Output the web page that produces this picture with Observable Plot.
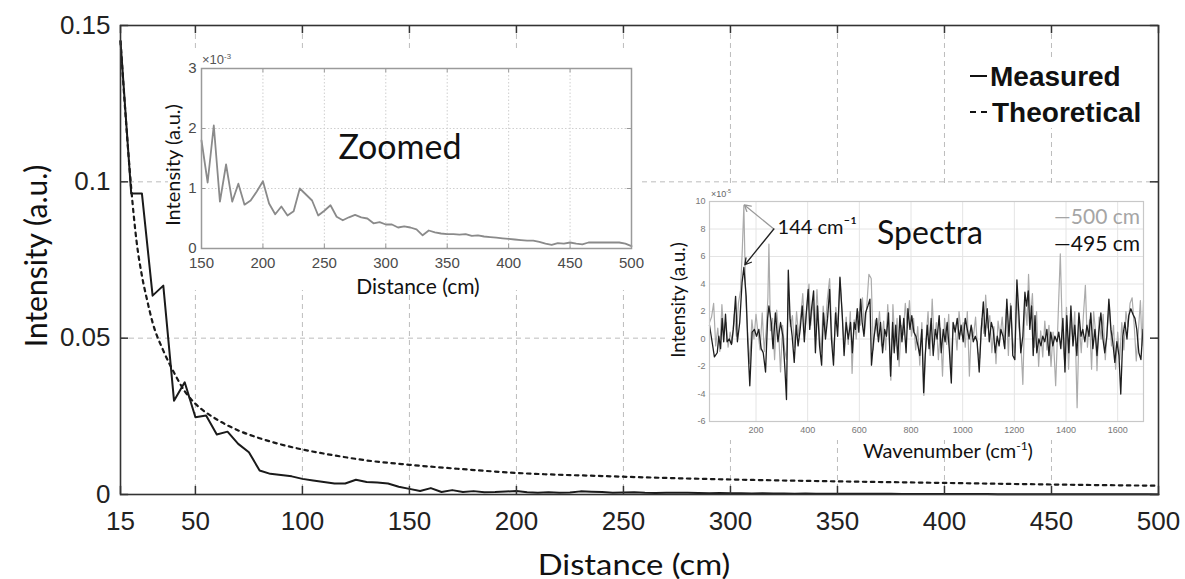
<!DOCTYPE html>
<html><head><meta charset="utf-8">
<script src="https://cdn.jsdelivr.net/npm/d3@7"></script>
<script src="https://cdn.jsdelivr.net/npm/@observablehq/plot@0.6"></script>
<style>
body{margin:0;background:#fff;}
#wrap{position:relative;width:1185px;height:579px;overflow:hidden;background:#fff;}
#wrap > *{position:absolute;}
.t{font-family:Lato,"Open Sans",sans-serif;color:#111;white-space:nowrap;line-height:1;}
.c{transform:translate(-50%,-50%);}
.r{transform:translate(-50%,-50%) rotate(-90deg);}
.bg{background:#fff;}
.leg{font-family:"Liberation Sans",Arial,sans-serif;font-weight:bold;font-size:27px;color:#111;white-space:nowrap;line-height:1;transform:translateY(-50%);}
sup{font-size:60%;vertical-align:0.7em;line-height:0;}
</style></head><body><div id="wrap"></div>
<script>
// ---------- data ----------
const mainXTicks = [15,50,100,150,200,250,300,350,400,450,500];
const mainYTicks = [0,0.05,0.1,0.15];
const measuredDist = [15,20,25,30,35,40,45,50,55,60,65,70,75,80,85,90,95,100,105,110,115,120,125,130,135,140,145,150,155,160,165,170,175,180,185,190,195,200,205,210,215,220,225,230,235,240,245,250,255,260,265,270,275,280,285,290,295,300,305,310,315,320,325,330,335,340,345,350,355,360,365,370,375,380,385,390,395,400,405,410,415,420,425,430,435,440,445,450,455,460,465,470,475,480,485,490,495,500];
const measuredVal = [0.145,0.0963,0.0963,0.0636,0.0668,0.0300,0.0359,0.0247,0.0253,0.0192,0.0201,0.0162,0.0135,0.0077,0.0066,0.0062,0.0058,0.0050,0.0045,0.0040,0.0035,0.0035,0.0047,0.0040,0.0038,0.0035,0.0025,0.0018,0.0011,0.00205,0.00078,0.0014,0.00078,0.00108,0.00073,0.0008,0.00095,0.00112,0.00075,0.00057,0.0007,0.00055,0.00062,0.0010,0.0009,0.0008,0.00055,0.00063,0.00072,0.00053,0.00047,0.00052,0.00056,0.00052,0.0005,0.00042,0.00044,0.0004,0.0004,0.00035,0.00037,0.00035,0.00032,0.00022,0.0003,0.00027,0.00025,0.00024,0.00024,0.00023,0.00024,0.00021,0.00022,0.0002,0.00019,0.00018,0.00017,0.00016,0.00015,0.00014,0.00013,0.00013,0.00011,0.00008,0.00006,0.00009,0.00008,0.0001,0.00008,0.00007,0.0001,0.0001,0.0001,0.0001,0.0001,0.0001,0.00008,0.00004];
const theoryDist = [15,17.5,20,22.5,25,27.5,30,35,40,45,50,55,60,70,80,90,100,115,130,150,175,200,240,300,350,400,450,500];
const theoryVal  = [0.145,0.120,0.098,0.081,0.070,0.062,0.055,0.046,0.039,0.033,0.029,0.0262,0.0240,0.0205,0.0180,0.0160,0.0144,0.0125,0.0109,0.0095,0.0081,0.0069,0.0059,0.0048,0.0042,0.0037,0.0032,0.0028];

const zoomXTicks = [150,200,250,300,350,400,450,500];
const zoomYTicks = [0,1,2,3];

const specXTicks = [200,400,600,800,1000,1200,1400,1600];
const specYTicks = [-6,-4,-2,0,2,4,6,8,10];
// 495 cm spectrum [wavenumber, intensity x1e-5]
const spec495 = [[20,1.0],[30,-0.2],[39,-1.3],[50,-1.0],[56,0.2],[63,-0.7],[69,1.5],[75,-0.2],[82,1.8],[88,-0.2],[97,0],[105,-0.4],[112,0.7],[121,3.1],[128,-0.2],[137,1.2],[146,4.1],[153,5.2],[162,3.1],[168,-0.2],[176,-3.4],[185,0.5],[194,0.7],[202,0.2],[211,0.7],[220,-0.7],[228,-1.0],[237,-2.4],[245,1.5],[250,2.4],[259,1.2],[266,-0.7],[275,1.9],[285,-0.2],[295,1.2],[304,0.2],[312,-2.2],[318,-4.4],[325,5.0],[332,1.5],[340,0.2],[348,-1.7],[356,1.0],[363,-0.5],[371,0.7],[379,2.4],[387,-0.2],[394,1.7],[402,3.6],[408,0.7],[415,2.2],[423,3.5],[430,-1.0],[438,2.4],[446,-0.5],[454,-1.9],[461,1.9],[469,0],[477,1.5],[485,3.6],[492,0],[500,-1.9],[508,1.9],[516,0.2],[525,4.5],[534,1.7],[541,-1.2],[549,1.2],[557,0],[566,1.2],[573,-1.0],[580,1.2],[585,0.7],[592,2.2],[598,0.5],[605,2.9],[611,1.2],[618,0.2],[624,1.9],[633,2.4],[641,2.9],[647,-1.9],[656,0],[667,1.5],[674,-0.2],[682,1.2],[690,-1.0],[698,0.7],[705,0.2],[713,1.9],[721,-2.7],[729,1.2],[735,-1.0],[741,1.0],[749,-1.5],[757,1.7],[765,-0.2],[772,1.5],[781,-1.0],[788,2.2],[796,0.7],[803,1.7],[811,0.5],[819,0.2],[827,-0.5],[834,-1.2],[842,0.7],[849,-3.9],[855,-1.2],[863,1.0],[870,-0.7],[878,1.5],[886,-1.2],[894,0.7],[901,0],[909,1.7],[917,-1.0],[925,0.7],[932,-0.2],[940,1.2],[948,-0.7],[956,-3.2],[963,1.2],[971,0.5],[979,1.5],[987,0],[994,1.0],[1002,-0.2],[1010,1.5],[1018,0.7],[1025,0],[1033,1.0],[1041,-0.2],[1049,0.2],[1056,-0.2],[1064,-2.4],[1072,0.7],[1080,2.7],[1087,0.2],[1095,2.2],[1103,-0.2],[1111,1.2],[1118,0.7],[1126,-1.0],[1134,0.2],[1141,-0.5],[1148,0.7],[1156,0.2],[1163,-0.7],[1171,2.9],[1179,0.2],[1187,2.4],[1194,-1.2],[1202,-1.5],[1210,4.3],[1218,1.7],[1225,-1.0],[1233,0.2],[1241,3.4],[1247,2.4],[1254,3.5],[1260,0.7],[1267,2.4],[1273,-1.2],[1280,1.7],[1287,-1.0],[1295,0],[1303,-0.5],[1310,0.2],[1318,-0.2],[1326,0.7],[1334,-1.2],[1341,0.5],[1349,-0.5],[1357,0.2],[1365,-0.2],[1372,0.5],[1380,-0.7],[1388,1.5],[1396,-2.4],[1403,1.7],[1411,-1.0],[1419,2.4],[1427,-0.5],[1434,1.0],[1442,-1.2],[1450,1.9],[1458,0.2],[1465,0.7],[1473,-0.2],[1481,1.0],[1489,0.2],[1496,1.9],[1504,-0.7],[1512,0.7],[1520,-1.2],[1527,0.5],[1535,1.9],[1543,0],[1550,-1.0],[1558,0.2],[1566,2.9],[1574,0.7],[1581,-0.2],[1589,-1.7],[1597,-0.2],[1605,-1.2],[1612,-4.0],[1620,0.2],[1628,1.2],[1636,0],[1643,1.7],[1651,2.2],[1659,1.8],[1667,1.5],[1674,0.7],[1682,-1.0],[1690,-1.5],[1698,0.7]];
// 500 cm spectrum [wavenumber, intensity x1e-5]
const spec500 = [[20,1.2],[28,1.6],[36,2.6],[44,-0.5],[52,0.8],[60,-0.9],[68,2.5],[76,0.3],[84,1.2],[92,-0.6],[100,0.5],[108,-0.3],[116,1.8],[124,0.2],[132,2.6],[140,3.5],[147,6.5],[153,9.7],[160,3.0],[168,0.4],[176,-1.8],[184,1.4],[192,0.0],[200,1.8],[208,0.4],[216,-0.8],[224,1.9],[232,-0.9],[240,0.8],[246,3.0],[250,6.9],[256,0.6],[264,1.5],[272,-1.5],[280,2.1],[288,0.3],[295,-2.4],[303,1.0],[311,-0.8],[318,-1.5],[325,3.0],[333,0.9],[341,1.7],[349,-0.6],[357,2.0],[365,0.2],[373,1.6],[381,3.3],[389,0.5],[397,2.3],[405,4.0],[412,1.0],[420,2.8],[428,0.2],[436,3.6],[444,0.8],[452,-1.0],[460,2.4],[468,0.6],[476,2.9],[485,4.4],[493,0.5],[501,-1.2],[509,2.3],[517,0.9],[525,4.4],[533,2.0],[541,-0.6],[549,1.6],[557,-0.4],[565,2.0],[572,-2.5],[580,1.4],[588,0.0],[596,2.0],[604,1.0],[612,3.0],[620,0.4],[628,2.2],[637,4.7],[646,4.4],[654,-0.8],[662,1.4],[670,0.2],[678,2.0],[686,-0.5],[694,1.3],[702,-0.8],[710,2.5],[716,0.0],[722,-3.0],[730,2.5],[738,-0.5],[746,1.5],[754,-2.0],[762,1.0],[770,0.3],[778,2.6],[786,0.8],[794,2.8],[802,0.2],[810,1.5],[818,-0.8],[826,0.9],[834,-1.9],[842,1.2],[850,-4.1],[858,0.0],[866,2.0],[874,-1.2],[882,2.9],[890,-0.4],[898,1.2],[906,-1.5],[914,0.8],[922,-2.7],[930,1.5],[938,-0.4],[946,1.8],[954,-2.4],[962,0.7],[970,1.0],[978,-0.8],[986,2.0],[994,0.3],[1002,1.2],[1010,-0.6],[1018,2.0],[1026,-2.7],[1034,0.9],[1042,0.2],[1050,1.6],[1058,-0.9],[1066,-1.4],[1074,1.5],[1082,0.4],[1089,3.2],[1097,0.8],[1105,1.7],[1113,-1.0],[1121,0.9],[1129,-1.8],[1137,1.3],[1145,0.2],[1153,1.6],[1161,-0.5],[1169,2.2],[1177,-1.2],[1185,2.6],[1193,0.0],[1201,-1.0],[1209,3.6],[1217,0.9],[1225,-0.2],[1233,-3.3],[1241,2.7],[1249,1.0],[1255,4.7],[1262,1.5],[1270,3.3],[1278,-0.6],[1286,2.0],[1294,-2.0],[1302,0.6],[1310,-1.3],[1318,1.3],[1326,-0.8],[1334,1.0],[1342,-2.0],[1350,0.5],[1360,-3.4],[1368,0.8],[1378,6.2],[1386,0.3],[1394,-1.5],[1402,2.3],[1410,-2.2],[1418,1.4],[1426,0.0],[1434,2.0],[1443,-5.0],[1451,1.2],[1459,-1.0],[1467,1.6],[1475,3.9],[1483,-0.6],[1491,1.4],[1499,-2.2],[1507,2.0],[1515,0.4],[1520,-2.3],[1528,1.6],[1536,0.0],[1544,1.8],[1552,-1.5],[1560,0.7],[1568,2.5],[1576,-0.5],[1584,1.0],[1592,-2.2],[1600,0.5],[1608,-1.5],[1616,1.2],[1624,-0.8],[1632,2.0],[1640,0.9],[1648,2.6],[1656,3.0],[1664,1.0],[1672,-1.6],[1680,0.5],[1688,2.8],[1694,-0.5],[1700,2.8]];
const peakLabel = [{x:272, y:8.1, text:"144 cm⁻¹"}];
const arrow500 = [{x1:269, y1:8.0, x2:155, y2:9.75}];
const arrow495 = [{x1:269, y1:8.0, x2:157, y2:5.4}];

// ---------- build ----------
const measured = measuredDist.map((d,i)=>({d, v:measuredVal[i]}));
const theory = theoryDist.map((d,i)=>({d, v:theoryVal[i]}));
const s495 = spec495.map(([w,v])=>({w,v}));
const s500 = spec500.map(([w,v])=>({w,v}));
const sans = "'Liberation Sans', Arial, sans-serif";
const wrap = document.getElementById("wrap");

const mainPlot = Plot.plot({
  width:1185, height:579, marginLeft:120, marginRight:27, marginTop:25, marginBottom:85,
  style:{background:"transparent", fontFamily:sans, color:"#222", overflow:"visible"},
  x:{type:"linear", domain:[15,500]},
  y:{type:"linear", domain:[0,0.15]},
  marks:[
    Plot.gridX(mainXTicks.slice(1,-1), {stroke:"#bdbdbd", strokeOpacity:1, strokeDasharray:"5,4"}),
    Plot.gridY(mainYTicks.slice(1,-1), {stroke:"#bdbdbd", strokeOpacity:1, strokeDasharray:"5,4"}),
    Plot.line(theory, {x:"d", y:"v", stroke:"#1a1a1a", strokeWidth:2.2, strokeDasharray:"3.5,4.5", curve:"monotone-x"}),
    Plot.line(measured, {x:"d", y:"v", stroke:"#1a1a1a", strokeWidth:2}),
    Plot.ruleX(mainXTicks, {x:d=>d, y1:0, y2:0.0026, stroke:"#333", strokeWidth:1.5}),
    Plot.ruleX(mainXTicks, {x:d=>d, y1:0.15, y2:0.1474, stroke:"#333", strokeWidth:1.5}),
    Plot.ruleY(mainYTicks, {y:d=>d, x1:15, x2:18.8, stroke:"#333", strokeWidth:1.5}),
    Plot.ruleY(mainYTicks, {y:d=>d, x1:500, x2:496.2, stroke:"#333", strokeWidth:1.5}),
    Plot.frame({stroke:"#333", strokeWidth:1.6}),
    Plot.axisX(mainXTicks, {tickSize:0, tickPadding:17, fontSize:26, label:null, tickFormat:d=>String(d)}),
    Plot.axisY(mainYTicks, {tickSize:0, tickPadding:10, fontSize:26, label:null, tickFormat:d=>String(d)})
  ]
});
mainPlot.style.left="0px"; mainPlot.style.top="0px";
wrap.appendChild(mainPlot);

function addDiv(cls, css, html){
  const e=document.createElement("div"); e.className=cls; e.style.cssText=css; e.innerHTML=html||""; wrap.appendChild(e); return e;
}
// white backgrounds of insets and legend
addDiv("bg","left:168px;top:48px;width:472px;height:242px;");
addDiv("bg","left:668px;top:187px;width:482px;height:253px;");
addDiv("bg","left:962px;top:58px;width:190px;height:70px;");

const zoomPlot = Plot.plot({
  width:490, height:250, marginLeft:51, marginRight:9, marginTop:18, marginBottom:52,
  style:{background:"transparent", fontFamily:sans, color:"#4a4a4a", overflow:"visible"},
  x:{type:"linear", domain:[150,500]},
  y:{type:"linear", domain:[0,3]},
  marks:[
    Plot.gridX(zoomXTicks.slice(1,-1), {stroke:"#cfcfcf", strokeOpacity:1, strokeDasharray:"1.5,2"}),
    Plot.gridY(zoomYTicks.slice(1,-1), {stroke:"#cfcfcf", strokeOpacity:1, strokeDasharray:"1.5,2"}),
    Plot.line(measured.filter(p=>p.d>=150), {x:"d", y:p=>p.v*1000, stroke:"#8a8a8a", strokeWidth:1.8}),
    Plot.ruleX(zoomXTicks, {x:d=>d, y1:0, y2:0.07, stroke:"#999"}),
    Plot.ruleX(zoomXTicks, {x:d=>d, y1:3, y2:2.93, stroke:"#999"}),
    Plot.ruleY(zoomYTicks, {y:d=>d, x1:150, x2:153.5, stroke:"#999"}),
    Plot.ruleY(zoomYTicks, {y:d=>d, x1:500, x2:496.5, stroke:"#999"}),
    Plot.frame({stroke:"#9a9a9a", strokeWidth:1.5}),
    Plot.axisX(zoomXTicks, {tickSize:0, tickPadding:9, fontSize:15, label:null, tickFormat:d=>String(d)}),
    Plot.axisY(zoomYTicks, {tickSize:0, tickPadding:5, fontSize:15, label:null, tickFormat:d=>String(d)})
  ]
});
zoomPlot.style.left="150px"; zoomPlot.style.top="50px";
wrap.appendChild(zoomPlot);

const specPlot = Plot.plot({
  width:490, height:275, marginLeft:49, marginRight:7, marginTop:15, marginBottom:40,
  style:{background:"transparent", fontFamily:sans, color:"#777", overflow:"visible"},
  x:{type:"linear", domain:[20,1700]},
  y:{type:"linear", domain:[-6,10]},
  marks:[
    Plot.gridX(specXTicks, {stroke:"#e4e4e4", strokeOpacity:1}),
    Plot.gridY(specYTicks.slice(1,-1), {stroke:"#e4e4e4", strokeOpacity:1}),
    Plot.line(s500, {x:"w", y:"v", stroke:"#ababab", strokeWidth:1.2}),
    Plot.line(s495, {x:"w", y:"v", stroke:"#1e1e1e", strokeWidth:1.3}),
    Plot.arrow(arrow500, {x1:"x1", y1:"y1", x2:"x2", y2:"y2", stroke:"#9a9a9a", strokeWidth:1.3, headLength:8}),
    Plot.arrow(arrow495, {x1:"x1", y1:"y1", x2:"x2", y2:"y2", stroke:"#222", strokeWidth:1.3, headLength:8}),
    Plot.text(peakLabel, {x:"x", y:"y", text:"text", textAnchor:"start", dx:3, fontSize:20, fontFamily:"Lato, 'DejaVu Sans', sans-serif", fill:"#111"}),
    Plot.frame({stroke:"#c8c8c8", strokeWidth:1.2}),
    Plot.axisX(specXTicks, {tickSize:0, tickPadding:5, fontSize:9, label:null, tickFormat:d=>String(d)}),
    Plot.axisY(specYTicks, {tickSize:0, tickPadding:4, fontSize:9, label:null, tickFormat:d=>String(d)})
  ]
});
specPlot.style.left="660px"; specPlot.style.top="186px";
wrap.appendChild(specPlot);

// ---------- texts ----------
addDiv("t r","left:35px;top:256px;font-size:30px;","Intensity (a.u.)");
addDiv("t","left:634px;top:563px;font-size:29px;transform:translate(-50%,-50%) scaleX(1.13);","Distance (cm)");
// legend
addDiv("","left:970px;top:75px;width:17px;height:2px;background:#111;","");
addDiv("","left:970px;top:111px;width:17px;height:0;border-top:2px dashed #111;","");
addDiv("leg","left:990px;top:77px;font-size:28px;","Measured");
addDiv("leg","left:992px;top:113px;font-size:28px;","Theoretical");
// zoomed inset texts
addDiv("t c","left:400px;top:146px;font-size:34px;","Zoomed");
addDiv("t c","left:418px;top:285px;font-size:21px;","Distance (cm)");
addDiv("t r","left:172px;top:165px;font-size:20px;","Intensity (a.u.)");
addDiv("t","left:202px;top:53px;font-size:13px;color:#555;font-family:'Liberation Sans',Arial;","×10<sup>-3</sup>");
// spectra inset texts
addDiv("t c","left:930px;top:232px;font-size:32px;","Spectra");
addDiv("t c","left:948px;top:450px;font-size:20px;","Wavenumber (cm<sup>-1</sup>)");
addDiv("t r","left:677px;top:300px;font-size:19px;","Intensity (a.u.)");
addDiv("t","left:711px;top:190px;font-size:9px;color:#666;font-family:'Liberation Sans',Arial;","×10<sup>-5</sup>");
addDiv("t","right:45px;top:205px;font-size:21px;color:#a5a5a5;","—500 cm");
addDiv("t","right:45px;top:232px;font-size:21px;color:#111;","—495 cm");
</script></body></html>
